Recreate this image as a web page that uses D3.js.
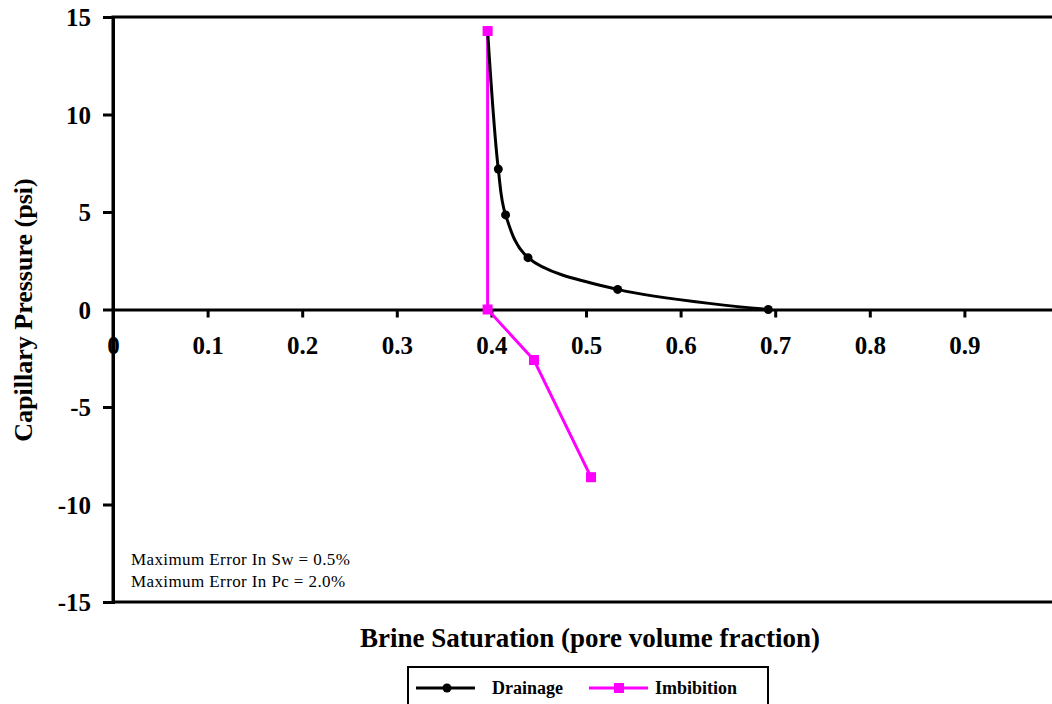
<!DOCTYPE html>
<html>
<head>
<meta charset="utf-8">
<script src="https://cdn.jsdelivr.net/npm/d3@7"></script>
<style>
body { margin: 0; background: #fff; }
text { font-family: "Liberation Serif", "Times New Roman", serif; }
</style>
</head>
<body>
<div id="chart"></div>
<script>
// data
const drainage_sw = [0.396, 0.4073, 0.415, 0.4387, 0.5335, 0.6927]
const drainage_pc = [14.28, 7.2, 4.85, 2.66, 1.03, 0]
const imbibition_sw = [0.396, 0.396, 0.445, 0.5053]
const imbibition_pc = [14.28, 0, -2.59, -8.6]
const x_ticks = [0, 0.1, 0.2, 0.3, 0.4, 0.5, 0.6, 0.7, 0.8, 0.9]
const y_ticks = [-15, -10, -5, 0, 5, 10, 15]
const notes = ["Maximum Error In Sw = 0.5%", "Maximum Error In Pc = 2.0%"]

const W = 1052, H = 704
const pink = "#ff00ff"

svg = d3.select("#chart")
	.append("svg")
	.attr("width", W)
	.attr("height", H)

x = d3.scaleLinear().domain([0, 1]).range([113, 1059])
y = d3.scaleLinear().domain([-15, 15]).range([602, 17])

// plot frame (right side runs off the page)
svg.append("rect")
	.attr("x", x(0))
	.attr("y", y(15))
	.attr("width", x(1) - x(0) + 10)
	.attr("height", y(-15) - y(15))
	.attr("fill", "none")
	.attr("stroke", "#000")
	.attr("stroke-width", 3)

// y axis at Sw = 0
yAxis = svg.append("g")
	.attr("transform", "translate(" + x(0) + ",0)")
	.call(d3.axisLeft(y).tickValues(y_ticks).tickSize(10).tickPadding(12).tickFormat(d => String(d)))
yAxis.select(".domain").attr("stroke-width", 3)
yAxis.selectAll(".tick line").attr("stroke-width", 3)
yAxis.selectAll("text")
	.attr("font-size", 25)
	.attr("font-weight", "bold")
	.attr("fill", "#000")
	.attr("dy", "0.34em")
	.style("font-family", "Liberation Serif")

// x axis at Pc = 0
xAxis = svg.append("g")
	.attr("transform", "translate(0," + y(0) + ")")
	.call(d3.axisBottom(x).tickValues(x_ticks).tickSizeInner(8).tickSizeOuter(0).tickPadding(19)
		.tickFormat(d => d === 0 ? "0" : d3.format(".1f")(d)))
xAxis.select(".domain").attr("stroke-width", 3)
xAxis.selectAll(".tick line").attr("stroke-width", 3)
xAxis.selectAll(".tick").filter(d => d === 0).select("line").remove()
xAxis.selectAll("text")
	.attr("font-size", 25)
	.attr("font-weight", "bold")
	.attr("fill", "#000")
	.style("font-family", "Liberation Serif")

// axis titles
svg.append("text")
	.attr("x", 590)
	.attr("y", 647)
	.attr("text-anchor", "middle")
	.attr("font-size", 27)
	.attr("font-weight", "bold")
	.text("Brine Saturation (pore volume fraction)")

svg.append("text")
	.attr("transform", "translate(32,310) rotate(-90)")
	.attr("text-anchor", "middle")
	.attr("font-size", 26)
	.attr("font-weight", "bold")
	.text("Capillary Pressure (psi)")

// notes
notes.forEach(function(t, i){
	svg.append("text")
		.attr("x", 131)
		.attr("y", 565 + i * 21.5)
		.attr("font-size", 17)
		.attr("letter-spacing", 0.4)
		.text(t)
})

// imbibition
imb = imbibition_sw.map((d, i) => [d, imbibition_pc[i]])
svg.append("path")
	.datum(imb)
	.attr("d", d3.line().x(d => x(d[0])).y(d => y(d[1])))
	.attr("fill", "none")
	.attr("stroke", pink)
	.attr("stroke-width", 3)

// drainage
dra = drainage_sw.map((d, i) => [d, drainage_pc[i]])
svg.append("path")
	.datum(dra)
	.attr("d", d3.line().x(d => x(d[0])).y(d => y(d[1])).curve(d3.curveCatmullRom.alpha(0.5)))
	.attr("fill", "none")
	.attr("stroke", "#000")
	.attr("stroke-width", 3)

svg.selectAll(".dot")
	.data(dra)
	.enter().append("circle")
	.attr("class", "dot")
	.attr("cx", d => x(d[0]))
	.attr("cy", d => y(d[1]))
	.attr("r", 4.5)
	.attr("fill", "#000")

svg.selectAll(".sq")
	.data(imb)
	.enter().append("rect")
	.attr("class", "sq")
	.attr("x", d => x(d[0]) - 5)
	.attr("y", d => y(d[1]) - 5)
	.attr("width", 10)
	.attr("height", 10)
	.attr("fill", pink)

// legend
lg = svg.append("g")
lg.append("rect")
	.attr("x", 408)
	.attr("y", 667)
	.attr("width", 360)
	.attr("height", 40)
	.attr("fill", "#fff")
	.attr("stroke", "#000")
	.attr("stroke-width", 2)
lg.append("line")
	.attr("x1", 416).attr("x2", 475).attr("y1", 688).attr("y2", 688)
	.attr("stroke", "#000").attr("stroke-width", 3)
lg.append("circle")
	.attr("cx", 447).attr("cy", 688).attr("r", 4.5).attr("fill", "#000")
lg.append("text")
	.attr("x", 492).attr("y", 694)
	.attr("font-size", 18).attr("font-weight", "bold")
	.text("Drainage")
lg.append("line")
	.attr("x1", 589).attr("x2", 648).attr("y1", 688).attr("y2", 688)
	.attr("stroke", pink).attr("stroke-width", 3)
lg.append("rect")
	.attr("x", 614).attr("y", 683).attr("width", 10).attr("height", 10).attr("fill", pink)
lg.append("text")
	.attr("x", 655).attr("y", 694)
	.attr("font-size", 18).attr("font-weight", "bold")
	.text("Imbibition")
</script>
</body>
</html>
